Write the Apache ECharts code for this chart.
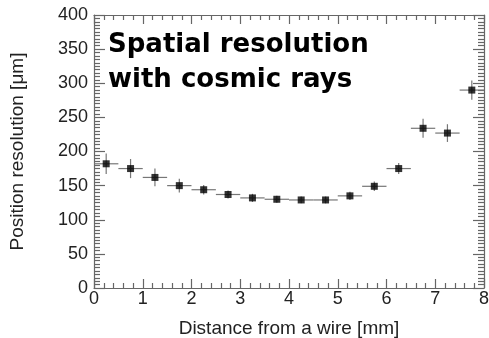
<!DOCTYPE html>
<html>
<head>
<meta charset="utf-8">
<script src="https://cdn.jsdelivr.net/npm/echarts@6/dist/echarts.min.js"></script>
<style>
  html, body { margin: 0; padding: 0; background: #fff; }
  #chart { width: 489px; height: 338px; }
</style>
</head>
<body>
<div id="chart"></div>
<script>
// 数据：距离（bin 中心）、分辨率、误差
var distance = [0.25, 0.75, 1.25, 1.75, 2.25, 2.75, 3.25, 3.75, 4.25, 4.75, 5.25, 5.75, 6.25, 6.75, 7.25, 7.75];
var resolution = [182, 175, 162, 150, 144, 137, 132, 130, 129, 129, 135, 149, 175, 234, 227, 290];
var resError = [15, 14, 13, 10, 7, 6, 6, 5, 5, 5, 6, 7, 8, 14, 13, 14];
var binHalfWidth = 0.25;

var titleLines = ["Spatial resolution", "with cosmic rays"];

/**
 * 误差线绘制
 */
function renderErrorBar(params, api) {
	var x = api.value(0);
	var y = api.value(1);
	var e = api.value(2);
	var left = api.coord([x - binHalfWidth, y]);
	var right = api.coord([x + binHalfWidth, y]);
	var top = api.coord([x, y + e]);
	var bottom = api.coord([x, y - e]);
	var style = { stroke: '#777', lineWidth: 1.2 };
	return {
		type: 'group',
		children: [
			{ type: 'line', shape: { x1: left[0], y1: left[1], x2: right[0], y2: right[1] }, style: style },
			{ type: 'line', shape: { x1: top[0], y1: top[1], x2: bottom[0], y2: bottom[1] }, style: style }
		]
	};
}

/**
 * 坐标轴（上下左右四条边框，刻度朝内）
 */
function makeAxis(pos, showLabel, extra) {
	var vertical = (pos == 'left' || pos == 'right');
	var axis = {
		type: 'value',
		position: pos,
		min: 0,
		max: vertical ? 400 : 8,
		interval: vertical ? 50 : 1,
		axisLine: { show: true, onZero: false, lineStyle: lineStyle },
		axisTick: { show: true, inside: true, length: vertical ? 11 : 9, lineStyle: lineStyle },
		minorTick: { show: true, splitNumber: vertical ? 10 : 5, length: vertical ? 6 : 5, lineStyle: lineStyle },
		axisLabel: { show: showLabel, margin: vertical ? 6 : 2, color: '#222', fontFamily: 'Liberation Sans', fontSize: 18 },
		splitLine: { show: false }
	};
	for (var k in extra) {
		axis[k] = extra[k];
	}
	return axis;
}

var lineStyle = { color: '#666', width: 1.2 };
var nameStyle = { color: '#222', fontFamily: 'Liberation Sans', fontSize: 19 };

var myChart = echarts.init(document.getElementById('chart'));

var points = [];
var bars = [];
for (var i = 0; i < distance.length; i++) {
	points.push([distance[i], resolution[i]]);
	bars.push([distance[i], resolution[i], resError[i]]);
}

var option = {
	backgroundColor: '#fff',
	animation: false,
	title: {
		text: titleLines.join('\n'),
		left: 108,
		top: 28,
		padding: 0,
		textStyle: {
			fontFamily: 'DejaVu Sans',
			fontWeight: 'bold',
			fontSize: 26,
			lineHeight: 35,
			color: '#000'
		}
	},
	grid: { left: 94, top: 15, right: 5, bottom: 50, containLabel: false, outerBoundsMode: 'none' },
	xAxis: [
		makeAxis('bottom', true, { name: 'Distance from a wire [mm]', nameLocation: 'middle', nameGap: 31, nameTextStyle: nameStyle }),
		makeAxis('top', false, {})
	],
	yAxis: [
		makeAxis('left', true, { name: 'Position resolution [\u03bcm]', nameLocation: 'middle', nameGap: 67, nameTextStyle: nameStyle }),
		makeAxis('right', false, {})
	],
	series: [{
		type: 'custom',
		renderItem: renderErrorBar,
		data: bars,
		z: 2
	}, {
		type: 'scatter',
		symbol: 'rect',
		symbolSize: 7,
		itemStyle: { color: '#000' },
		data: points,
		z: 3
	}]
};
myChart.setOption(option);
</script>
</body>
</html>
